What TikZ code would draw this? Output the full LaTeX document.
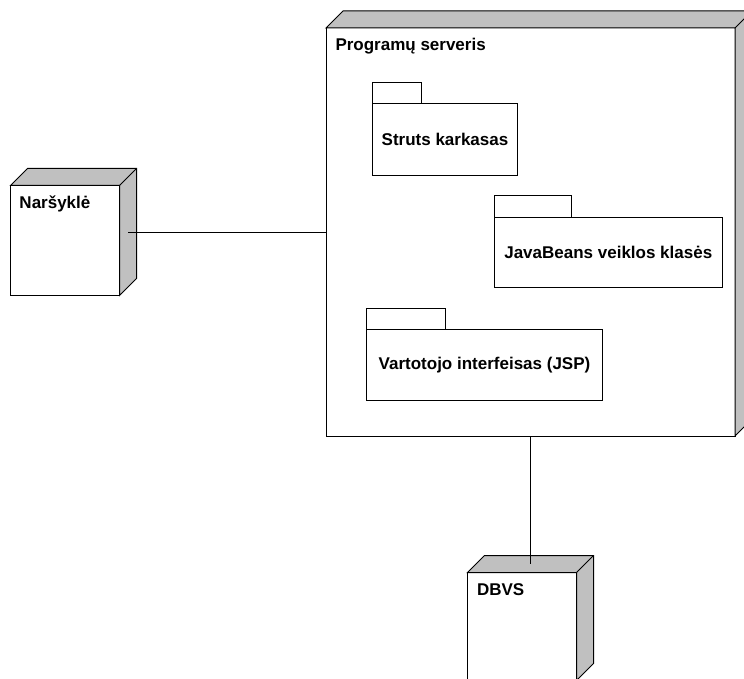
\documentclass[tikz,border=0pt]{standalone}
\usepackage{fontspec}
\setmainfont{Liberation Sans}
\definecolor{boxgrey}{HTML}{C0C0C0}

% top and side faces of a 3D deployment node, built on its front face
\newcommand\devfaces[1]{%
  \filldraw[face] (#1.north west) -- ++(17,-17)
    -| ([shift={(17,-17)}]#1.south east) -- (#1.south east)
    -- (#1.north east) -- cycle;
  \draw[face] (#1.north east) -- ++(17,-17);
}
% folder tab of a package, on top of its body
\newcommand\pkgtab[3]{%
  \draw[tabbox] (#1.north west) rectangle ++(#2,-#3);
}

\begin{document}
\begin{tikzpicture}[x=1pt,y=-1pt,line width=1pt,
  every node/.style={font=\fontsize{17}{20}\selectfont\bfseries},
  devfront/.style={draw=black,fill=white,rectangle,inner sep=0pt,outer sep=0pt},
  face/.style={draw=black,fill=boxgrey,line join=miter},
  pkgbody/.style={draw=black,fill=white,rectangle,inner sep=0pt,outer sep=0pt},
  tabbox/.style={draw=black,fill=white},
  devlabel/.style={anchor=base west,inner sep=0pt},
  link/.style={draw=black,line width=1pt}]

\clip (0,0) rectangle (744,679);

% deployment nodes
\node[devfront,minimum width=109,minimum height=110] (nar) at (65,240.5) {};
\devfaces{nar}
\node[devlabel] (narlabel) at ([shift={(8.5,23.5)}]nar.north west) {Naršyklė};

\node[devfront,minimum width=409,minimum height=408] (srv) at (530.5,232) {};
\devfaces{srv}
\node[devlabel] (srvlabel) at ([shift={(9,22.5)}]srv.north west) {Programų serveris};

\node[devfront,minimum width=109,minimum height=108] (db) at (522,626.5) {};
\devfaces{db}
\node[devlabel] (dblabel) at ([shift={(9,23.3)}]db.north west) {DBVS};

% packages inside the application server
\node[pkgbody,minimum width=145.5,minimum height=72.5] (struts) at (445,139.5) {Struts karkasas};
\pkgtab{struts}{49.5}{21}

\node[pkgbody,minimum width=228,minimum height=70] (beans) at (608.3,252.3) {JavaBeans veiklos klasės};
\pkgtab{beans}{76.7}{21.5}

\node[pkgbody,minimum width=235.6,minimum height=70.7] (jsp) at (484.5,365.3) {Vartotojo interfeisas (JSP)};
\pkgtab{jsp}{78.3}{21.7}

% connections
\coordinate (narport) at ([shift={(8.5,-8.5)}]nar.east);
\draw[link] (narport) -- (narport -| srv.west);
\coordinate (dbport) at ([shift={(8.5,-8.5)}]db.north);
\draw[link] (dbport |- srv.south) -- (dbport);

\end{tikzpicture}
\end{document}
